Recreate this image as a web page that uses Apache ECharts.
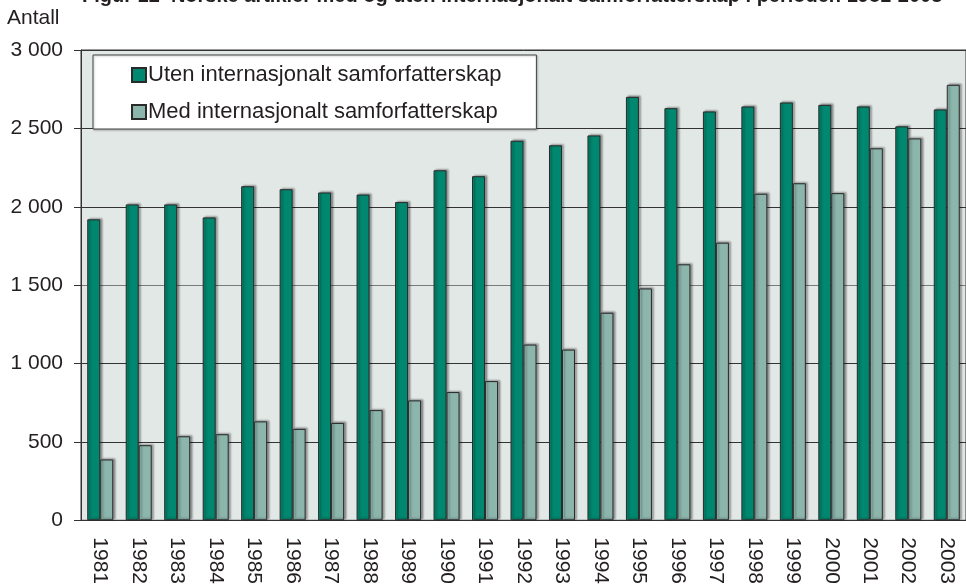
<!DOCTYPE html>
<html lang="no">
<head>
    <meta charset="UTF-8">
    <title>Norske artikler med og uten internasjonalt samforfatterskap</title>
    <script src="https://cdn.jsdelivr.net/npm/echarts@6/dist/echarts.min.js"></script>
    <style>
        body { margin: 0; background: #fff; }
        #main { width: 966px; height: 587px; }
    </style>
</head>
<body>
    <div id="main"></div>
    <script>
        const years = ['1981', '1982', '1983', '1984', '1985', '1986', '1987', '1988', '1989', '1990', '1991', '1992',
            '1993', '1994', '1995', '1996', '1997', '1998', '1999', '2000', '2001', '2002', '2003'];
        const uten = [1920, 2015, 2015, 1932, 2131, 2112, 2091, 2078, 2030, 2233, 2195, 2421,
            2392, 2455, 2701, 2629, 2608, 2640, 2665, 2650, 2640, 2513, 2621];
        const med = [388, 479, 536, 549, 631, 583, 621, 703, 765, 818, 888, 1121,
            1089, 1324, 1479, 1633, 1771, 2083, 2150, 2087, 2373, 2436, 2778];
        const seriesNames = ['Uten internasjonalt samforfatterskap', 'Med internasjonalt samforfatterskap'];

        const font = "'Liberation Sans', Arial, sans-serif";
        const textColor = '#231f20';

        var myChart = echarts.init(document.getElementById('main'));

        function barStyle(color) {
            return {
                color: color,
                borderColor: '#2a2a2a',
                borderWidth: 1,
                shadowColor: 'rgba(0,0,0,0.35)',
                shadowBlur: 2,
                shadowOffsetX: 2,
                shadowOffsetY: -1
            };
        }

        var option = {
            animation: false,
            textStyle: { fontFamily: font, color: textColor },
            title: [
                {
                    text: 'Figur 12  Norske artikler med og uten internasjonalt samforfatterskap i perioden 1981-2003',
                    left: 82,
                    top: -14,
                    padding: 0,
                    textStyle: { fontFamily: font, fontSize: 20, fontWeight: 'bold', color: textColor }
                },
                {
                    text: 'Antall',
                    left: 7,
                    top: 8,
                    padding: 0,
                    textStyle: { fontFamily: font, fontSize: 21, fontWeight: 'normal', color: textColor }
                }
            ],
            legend: {
                orient: 'vertical',
                left: 93,
                top: 55,
                padding: [9, 35, 6, 38],
                itemWidth: 14,
                itemHeight: 14,
                itemGap: 15,
                icon: 'rect',
                backgroundColor: '#fff',
                borderColor: '#444',
                borderWidth: 1,
                shadowColor: 'rgba(0,0,0,0.25)',
                shadowBlur: 2,
                shadowOffsetX: 1,
                shadowOffsetY: 1,
                textStyle: { fontFamily: font, fontSize: 22, color: textColor, padding: [0, 0, 0, -3] },
                data: seriesNames
            },
            grid: {
                left: 81,
                top: 50,
                right: -7,
                bottom: 65,
                show: true,
                backgroundColor: '#e2e8e6',
                borderColor: '#333',
                borderWidth: 1
            },
            xAxis: {
                type: 'category',
                data: years,
                axisLine: { lineStyle: { color: '#333', width: 1 } },
                axisTick: { interval: 0, length: 6, lineStyle: { color: '#333' } },
                axisLabel: {
                    interval: 0,
                    rotate: -90,
                    margin: 17,
                    fontSize: 21,
                    color: textColor,
                    fontFamily: font
                }
            },
            yAxis: {
                type: 'value',
                min: 0,
                max: 3000,
                interval: 500,
                axisLine: { show: true, lineStyle: { color: '#333', width: 1 } },
                axisTick: { show: true, length: 7, lineStyle: { color: '#333' } },
                splitLine: {
                    lineStyle: {
                        color: ['#333', '#333', '#333', '#7a7a7a', '#333', '#333', '#333'],
                        width: 1
                    }
                },
                axisLabel: {
                    margin: 18,
                    fontSize: 21,
                    color: textColor,
                    fontFamily: font,
                    formatter: function (v) {
                        return String(v).replace(/\B(?=(\d{3})+(?!\d))/g, ' ');
                    }
                }
            },
            series: [
                {
                    name: seriesNames[0],
                    type: 'bar',
                    barWidth: 13,
                    barGap: '0%',
                    itemStyle: barStyle('#00876f'),
                    data: uten
                },
                {
                    name: seriesNames[1],
                    type: 'bar',
                    barWidth: 13,
                    barGap: '0%',
                    itemStyle: barStyle('#8cb5ac'),
                    data: med
                }
            ]
        };

        option && myChart.setOption(option);
    </script>
</body>
</html>
